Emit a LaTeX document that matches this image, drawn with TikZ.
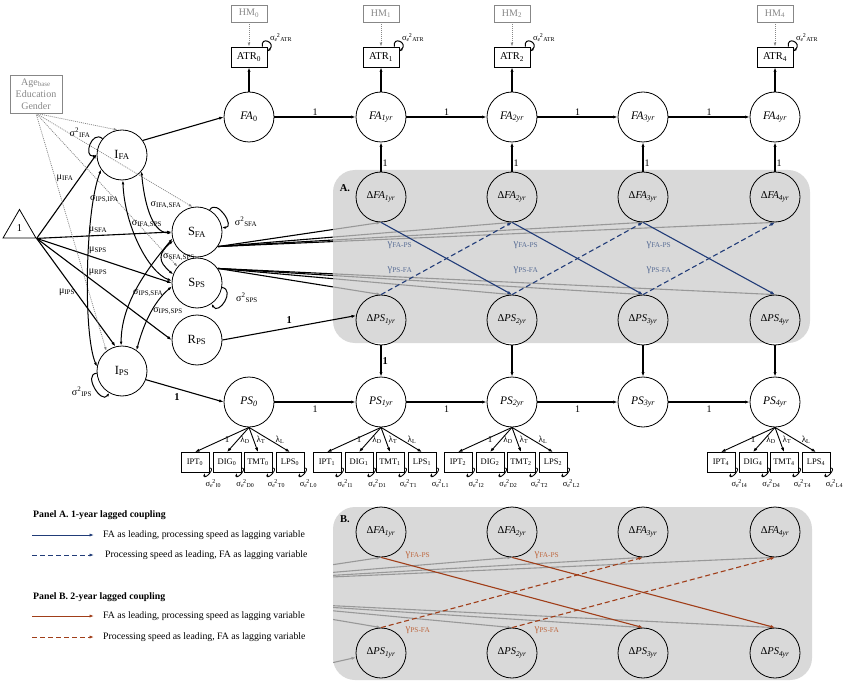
\documentclass[tikz,border=0pt]{standalone}
\usepackage{fontspec}
\setmainfont{Liberation Serif}
\usetikzlibrary{arrows.meta,shapes.geometric,calc}
\definecolor{navy}{RGB}{33,60,120}
\definecolor{navylab}{RGB}{90,110,150}
\definecolor{rust}{RGB}{160,62,25}
\definecolor{rustlab}{RGB}{190,105,65}
\definecolor{covgray}{RGB}{135,135,135}
\newcommand\sge{σ\textsubscript{\textit{e}}\kern-0.12em\textsuperscript{2}}
\pgfdeclarelayer{bglines}
\pgfdeclarelayer{panels}
\pgfsetlayers{bglines,panels,main}
\tikzset{
  lat/.style={circle,draw,line width=0.8pt,minimum size=50pt,inner sep=0pt,font=\fontsize{11.5}{12}\selectfont},
  biglat/.style={lat,font=\fontsize{12.5}{13}\selectfont},
  dlat/.style={lat,font=\fontsize{10.5}{11}\selectfont},
  obsbox/.style={draw,line width=0.8pt,minimum width=36pt,minimum height=20pt,inner sep=0pt,font=\fontsize{10.5}{11}\selectfont},
  hmbox/.style={draw=covgray,text=covgray,line width=0.7pt,minimum width=36pt,minimum height=17pt,inner sep=0pt,font=\fontsize{10}{10}\selectfont},
  indbox/.style={draw,line width=0.8pt,minimum width=28pt,minimum height=20pt,inner sep=0pt,font=\fontsize{8.5}{9}\selectfont},
  tipa/.style={-{Latex[length=4.5pt,width=3.2pt]}},
  conn/.style={tipa,line width=1.1pt},
  thinconn/.style={tipa,line width=0.9pt},
  dotarr/.style={-{Latex[length=4pt,width=2.8pt]},draw=covgray,dash pattern=on 1pt off 1pt,line width=0.75pt},
  covarr/.style={{Latex[length=4pt,width=2.8pt]}-{Latex[length=4pt,width=2.8pt]},line width=1pt},
  varloop/.style={-{Latex[length=3.5pt,width=2.6pt]},line width=1pt},
  lab/.style={font=\fontsize{10}{10}\selectfont,inner sep=1pt},
  ldlab/.style={font=\fontsize{9}{9}\selectfont,inner sep=0.5pt},
  smlab/.style={font=\fontsize{8.5}{9}\selectfont,inner sep=0.5pt},
  boldlab/.style={font=\fontsize{10.5}{11}\selectfont\bfseries,inner sep=1pt},
  panelfill/.style={fill=black!20,fill opacity=0.75,rounded corners=22pt},
  glab/.style={font=\fontsize{10.5}{10}\selectfont,inner sep=0pt},
  legtext/.style={anchor=west,inner sep=0pt,font=\fontsize{9.8}{11}\selectfont},
  cdash/.style={dash pattern=on 5pt off 3pt},
}
\begin{document}
\begin{tikzpicture}[x=1pt,y=1pt]
\useasboundingbox (0,0) rectangle (850,-684);
% ---------- left block ----------
\node[hmbox,minimum width=52pt,minimum height=38pt,align=center,font=\fontsize{10}{11.8}\selectfont] (cov) at (36,-94) {Age\textsubscript{base}\\Education\\Gender};
\node[draw,regular polygon,regular polygon sides=3,minimum size=38pt,inner sep=0pt,line width=0.8pt,font=\fontsize{10.5}{12}\selectfont] (tri) at (19.5,-228.5) {1};
\node[biglat] (IFA) at (122,-155) {I\textsubscript{FA}};
\node[biglat] (SFA) at (197,-232) {S\textsubscript{FA}};
\node[biglat] (SPS) at (197,-283) {S\textsubscript{PS}};
\node[biglat] (RPS) at (197,-340) {R\textsubscript{PS}};
\node[biglat] (IPS) at (122,-371) {I\textsubscript{PS}};
% ---------- FA / PS rows and panels ----------
\node[lat] (FA0) at (249,-117) {\textit{FA}\textsubscript{0}};
\node[lat] (PS0) at (249,-402) {\textit{PS\textsubscript{0}}};
\foreach \i/\x in {1/381,2/512,3/643,4/775}{
  \node[lat] (FA\i) at (\x,-117) {\textit{FA\textsubscript{\i yr}}};
  \node[dlat] (dFA\i) at (\x,-197) {Δ\textit{FA\textsubscript{\i yr}}};
  \node[dlat] (dPS\i) at (\x,-320) {Δ\textit{PS\textsubscript{\i yr}}};
  \node[lat] (PS\i) at (\x,-402) {\textit{PS\textsubscript{\i yr}}};
  \node[dlat] (dFAB\i) at (\x,-532) {Δ\textit{FA\textsubscript{\i yr}}};
  \node[dlat] (dPSB\i) at (\x,-653) {Δ\textit{PS\textsubscript{\i yr}}};
}
% chains
\draw[conn] (FA0) -- node[above,lab]{1} (FA1);
\draw[conn] (FA1) -- node[above,lab]{1} (FA2);
\draw[conn] (FA2) -- node[above,lab]{1} (FA3);
\draw[conn] (FA3) -- node[above,lab]{1} (FA4);
\draw[conn] (PS0) -- node[below=2pt,lab]{1} (PS1);
\draw[conn] (PS1) -- node[below=2pt,lab]{1} (PS2);
\draw[conn] (PS2) -- node[below=2pt,lab]{1} (PS3);
\draw[conn] (PS3) -- node[below=2pt,lab]{1} (PS4);
% ATR / HM
\foreach \i/\x in {0/249,1/381,2/512,4/775}{
  \node[obsbox] (ATR\i) at (\x,-57) {ATR\textsubscript{\i}};
  \node[hmbox] (HM\i) at (\x,-13.5) {HM\textsubscript{\i}};
  \draw[conn] (FA\i) -- (ATR\i);
  \draw[dotarr] (HM\i) -- (ATR\i);
  \draw[varloop] ([xshift=-5pt]ATR\i.north east) .. controls +(-2,11) and +(9,9) .. ([yshift=-5pt]ATR\i.north east);
  \node[smlab,anchor=west] (vATR\i) at ([xshift=2pt,yshift=9pt]ATR\i.north east) {\sge\textsubscript{ATR}};
}
% indicators
\foreach \i/\x in {0/249,1/381,2/512,4/775}{
  \node[indbox] (IPT\i) at (\x-54,-462.5) {IPT\textsubscript{\i}};
  \node[indbox] (DIG\i) at (\x-22,-462.5) {DIG\textsubscript{\i}};
  \node[indbox] (TMT\i) at (\x+9,-462.5) {TMT\textsubscript{\i}};
  \node[indbox] (LPS\i) at (\x+41,-462.5) {LPS\textsubscript{\i}};
  \foreach \b/\r in {IPT/I,DIG/D,TMT/T,LPS/L}{
    \draw[thinconn] (PS\i.south) -- (\b\i.north);
    \draw[varloop,line width=0.8pt] ([yshift=5pt]\b\i.south east) .. controls +(7,0) and +(0,-7) .. ([xshift=-5pt]\b\i.south east);
    \node[smlab] (e\b\i) at ([xshift=4pt,yshift=-11pt]\b\i.south east) {\sge\textsubscript{\r\i}};
  }
  \node[ldlab] (l1\i) at (\x-22,-440) {1};
  \node[ldlab] (lD\i) at (\x-4,-440) {λ\textsubscript{D}};
  \node[ldlab] (lT\i) at (\x+12,-440) {λ\textsubscript{T}};
  \node[ldlab] (lL\i) at (\x+31,-440) {λ\textsubscript{L}};
}
% delta to level
\foreach \i in {1,...,4}{
  \draw[conn] (dFA\i) -- node[pos=0.3,right,lab]{1} (FA\i);
}
\draw[conn] (dPS1) -- node[right,boldlab]{1} (PS1);
\foreach \i in {2,3,4}{ \draw[conn] (dPS\i) -- (PS\i); }
% ---------- left connections ----------
\draw[conn] (IFA.35) -- (FA0.180);
\draw[conn] (IPS.-20) -- node[pos=0.4,below=3pt,boldlab]{1} (PS0.180);
\draw[conn] (RPS.0) -- node[above=3pt,boldlab]{1} (dPS1.170);
\draw[conn] (tri.corner 3) -- (IFA.178);
\draw[conn] (tri.corner 3) -- (SFA.180);
\draw[conn] (tri.corner 3) -- (SPS.180);
\draw[conn] (tri.corner 3) -- (RPS.180);
\draw[conn] (tri.corner 3) -- (IPS.105);
\node[lab] (mIFA) at (65,-178) {μ\textsubscript{IFA}};
\node[lab] (mSFA) at (98,-230) {μ\textsubscript{SFA}};
\node[lab] (mSPS) at (98,-250) {μ\textsubscript{SPS}};
\node[lab] (mRPS) at (98,-272) {μ\textsubscript{RPS}};
\node[lab] (mIPS) at (67,-292) {μ\textsubscript{IPS}};
\draw[dotarr] (cov.south) -- (IFA.100);
\draw[dotarr] (cov.south) -- (SFA.100);
\draw[dotarr] (cov.south) -- (SPS.140);
\draw[dotarr] (cov.south) -- (IPS.128);
% covariances
\draw[covarr] (IFA.-40) .. controls +(-85:30) and +(180:20) .. (SFA.182);
\draw[covarr] (IFA.-88) .. controls +(-88:45) and +(160:25) .. (SPS.175);
\draw[covarr] (IFA.215) .. controls (85,-210) and (83,-335) .. (IPS.170);
\draw[covarr] (SFA.200) .. controls +(220:20) and +(140:20) .. (SPS.160);
\draw[covarr] (SFA.195) .. controls +(230:45) and +(90:40) .. (IPS.92);
\draw[covarr] (SPS.188) .. controls +(220:25) and +(75:25) .. (IPS.55);
\node[lab] (cIFASFA) at (166,-205) {σ\textsubscript{IFA,SFA}};
\node[lab] (cIFASPS) at (147,-224) {σ\textsubscript{IFA,SPS}};
\node[lab,anchor=west] (cIPSIFA) at (89,-199) {σ\textsubscript{IPS,IFA}};
\node[lab,anchor=west] (cSFASPS) at (162,-257) {σ\textsubscript{SFA,SPS}};
\node[lab,anchor=west] (cIPSSFA) at (132,-293) {σ\textsubscript{IPS,SFA}};
\node[lab] (cIPSSPS) at (168,-311) {σ\textsubscript{IPS,SPS}};
% variances
\draw[varloop] (IFA.140) .. controls +(140:14) and +(185:14) .. (IFA.182);
\draw[varloop] (SFA.60) .. controls +(60:14) and +(0:14) .. (SFA.10);
\draw[varloop] (SPS.-10) .. controls +(-10:14) and +(-60:14) .. (SPS.-55);
\draw[varloop] (IPS.185) .. controls +(185:14) and +(235:14) .. (IPS.240);
\node[lab] (vIFA) at (80,-133) {σ\textsuperscript{2}\textsubscript{IFA}};
\node[lab] (vSFA) at (246,-222) {σ\textsuperscript{2}\textsubscript{SFA}};
\node[lab] (vSPS) at (247,-298) {σ\textsuperscript{2}\textsubscript{SPS}};
\node[lab] (vIPS) at (82,-392) {σ\textsuperscript{2}\textsubscript{IPS}};
% ---------- background lines and panels ----------
\begin{pgfonlayer}{bglines}
  \foreach \i in {1,...,4}{
    \draw[conn] (SFA.-35) -- (dFA\i.south);
    \draw[conn] (SPS.35) -- (dPS\i.north);
  }
  \begin{scope}
    \clip[rounded corners=22pt] (333,-507) rectangle (812,-680);
    \coordinate (srcFA) at (218,-582);
    \coordinate (srcPS) at (218,-600);
    \coordinate (srcR) at (300,-670);
    \foreach \i in {1,...,4}{
      \draw[conn] (srcFA) -- (dFAB\i.south);
      \draw[conn] (srcPS) -- (dPSB\i.north);
    }
    \draw[conn] (srcR) -- (dPSB1.190);
  \end{scope}
\end{pgfonlayer}
\begin{pgfonlayer}{panels}
  \fill[panelfill] (333,-170) rectangle (810,-343);
  \fill[panelfill] (333,-507) rectangle (812,-680);
\end{pgfonlayer}
\node[boldlab] (pA) at (345,-188) {A.};
\node[boldlab] (pB) at (345,-519) {B.};
% panel A couplings
\foreach \i/\j in {1/2,2/3,3/4}{
  \draw[conn,navy] (dFA\i.south) -- (dPS\j.north);
  \draw[conn,navy,cdash] (dPS\i.north) -- (dFA\j.south);
}
\foreach \i/\x in {1/400,2/526,3/659}{
  \node[glab,text=navylab] (gA\i) at (\x,-245) {γ\textsubscript{FA-PS}};
  \node[glab,text=navylab] (gB\i) at (\x,-270) {γ\textsubscript{PS-FA}};
}
% panel B couplings
\foreach \i/\j in {1/3,2/4}{
  \draw[conn,rust] (dFAB\i.south) -- (dPSB\j.north);
  \draw[conn,rust,cdash] (dPSB\i.north) -- (dFAB\j.south);
}
\foreach \i/\x in {1/418,2/547}{
  \node[glab,text=rustlab] (rA\i) at (\x,-555) {γ\textsubscript{FA-PS}};
  \node[glab,text=rustlab] (rB\i) at (\x,-630) {γ\textsubscript{PS-FA}};
}
% ---------- legend ----------
\node[legtext,font=\fontsize{9.8}{11}\selectfont\bfseries] (legA) at (33,-515) {Panel A. 1-year lagged coupling};
\coordinate (la1) at (32,-535);
\node[legtext] (lt1) at (103,-535) {FA as leading, processing speed as lagging variable};
\draw[thinconn,navy] (la1) -- ([xshift=-9pt]lt1.west);
\coordinate (la2) at (32,-555);
\node[legtext] (lt2) at (105,-555) {Processing speed as leading, FA as lagging variable};
\draw[thinconn,navy,cdash] (la2) -- ([xshift=-11pt]lt2.west);
\node[legtext,font=\fontsize{9.8}{11}\selectfont\bfseries] (legB) at (33,-597) {Panel B. 2-year lagged coupling};
\coordinate (la3) at (32,-616);
\node[legtext] (lt3) at (103,-616) {FA as leading, processing speed as lagging variable};
\draw[thinconn,rust] (la3) -- ([xshift=-9pt]lt3.west);
\coordinate (la4) at (32,-637);
\node[legtext] (lt4) at (103,-637) {Processing speed as leading, FA as lagging variable};
\draw[thinconn,rust,cdash] (la4) -- ([xshift=-9pt]lt4.west);
\end{tikzpicture}
\end{document}
